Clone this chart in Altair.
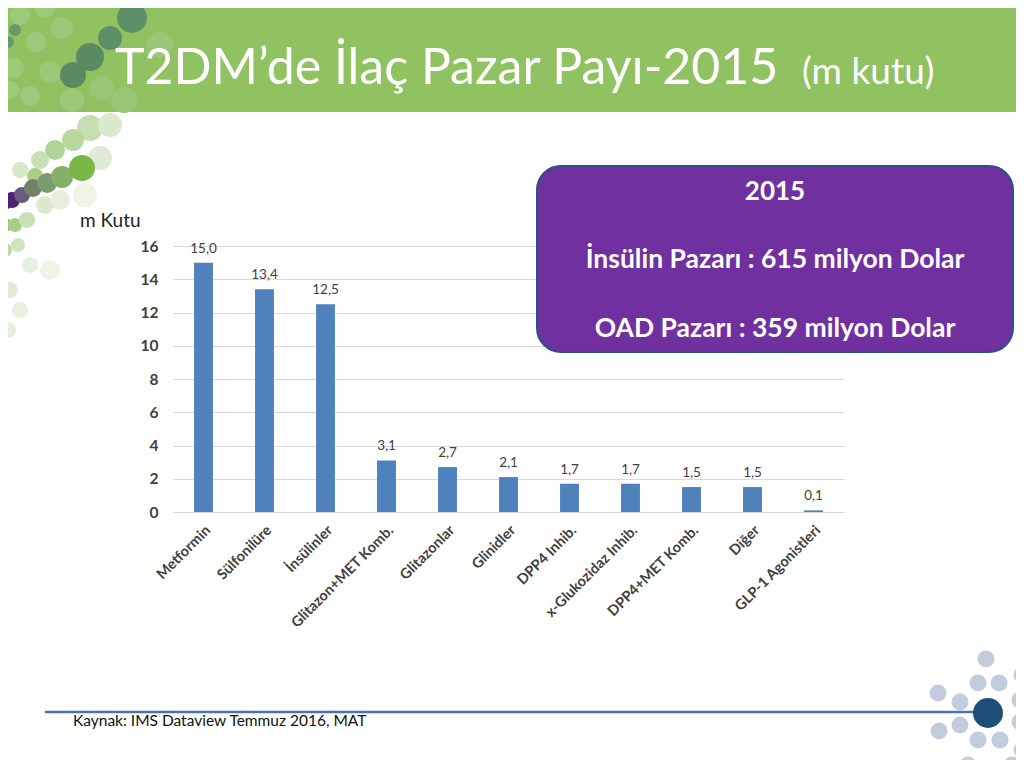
import altair as alt
import pandas as pd

# ---------------- data ----------------
categories = ["Metformin", "Sülfonilüre", "İnsülinler", "Glitazon+MET Komb.",
              "Glitazonlar", "Glinidler", "DPP4 Inhib.", "x-Glukozidaz Inhib.",
              "DPP4+MET Komb.", "Diğer", "GLP-1 Agonistleri"]
values = [15.0, 13.4, 12.5, 3.1, 2.7, 2.1, 1.7, 1.7, 1.5, 1.5, 0.1]
y_ticks = [0, 2, 4, 6, 8, 10, 12, 14, 16]

title_text = "T2DM’de İlaç Pazar Payı-2015"
title_unit = "(m kutu)"
box_lines = ["2015", "İnsülin Pazarı : 615 milyon Dolar", "OAD Pazarı : 359 milyon Dolar"]
y_title = "m Kutu"
source_text = "Kaynak: IMS Dataview Temmuz 2016, MAT"

df = pd.DataFrame({"cat": categories, "val": values})
df["label"] = [f"{v:.1f}".replace(".", ",") for v in values]

# ---------------- layout ----------------
W, H = 671, 266
OX, OY = 173, 246  # page position of the plot origin


def px(x):
    return x - OX


def py(y):
    return y - OY


one = pd.DataFrame({"k": [0]})

# decorative dots (page x, page y, radius, colour)
dots_left = [
    (20, 15, 10, "#9dca7a"), (45, 8, 10, "#9dca7a"), (62, 28, 11, "#9ac877"),
    (36, 42, 10, "#9dca7a"), (14, 68, 10, "#9dca7a"), (50, 72, 11, "#9ac877"),
    (30, 96, 10, "#9dca7a"), (72, 100, 12, "#9ac877"), (102, 88, 12, "#98c675"),
    (124, 100, 13, "#98c675"), (160, 45, 13, "#98c675"), (10, 90, 9, "#9dca7a"),
    (132, 18, 15, "#5d8f68"), (110, 38, 12, "#5d8f68"), (90, 57, 14, "#5a8a62"),
    (73, 75, 13, "#5a8a62"), (15, 30, 6, "#6a9a6a"), (8, 42, 6, "#6a9a6a"),
    (2, 52, 6, "#6a9a6a"),
    (90, 128, 13, "#c5dfb0"), (73, 140, 11, "#b8d8a0"), (55, 150, 10, "#b0d493"),
    (100, 158, 12, "#dfe9d5"), (40, 160, 9, "#c8e0b5"), (20, 170, 8, "#d6e8c8"),
    (35, 176, 8, "#a8cf88"), (110, 125, 12, "#dbe9cf"),
    (4, 202, 8, "#4b2370"), (12, 200, 8, "#4b2370"), (22, 195, 8, "#6a5a80"),
    (33, 188, 9, "#6f8466"), (47, 183, 10, "#7a9a70"), (62, 177, 11, "#86b068"),
    (82, 168, 13, "#7ab648"),
    (5, 225, 7, "#8fc46a"), (15, 225, 7, "#a5d088"), (27, 220, 8, "#c8e2b4"),
    (5, 250, 7, "#b8dba0"), (18, 245, 7, "#cfe5bf"), (45, 205, 9, "#dbe9cf"),
    (60, 200, 10, "#e5efdc"), (85, 195, 12, "#eef4e8"),
    (10, 290, 8, "#e0ecd6"), (20, 310, 8, "#e8f1e0"), (8, 330, 8, "#e4efda"),
    (50, 270, 10, "#eef4e8"), (30, 265, 8, "#e6f0de"),
]
dots_right = [
    (986, 659, 8.5, "#c3ccdc"), (978, 683, 8.5, "#c3ccdc"), (999, 683, 8.5, "#c3ccdc"),
    (938, 693, 8.5, "#c3ccdc"), (960, 702, 8.5, "#c3ccdc"), (1022, 675, 8.5, "#c3ccdc"),
    (1020, 700, 8.5, "#c3ccdc"), (960, 725, 8.5, "#c3ccdc"), (939, 731, 8.5, "#c3ccdc"),
    (978, 740, 8.5, "#c3ccdc"), (1000, 740, 8.5, "#c3ccdc"), (1020, 722, 8.5, "#c3ccdc"),
    (968, 765, 8.5, "#c3ccdc"), (1012, 765, 8.5, "#c3ccdc"), (1022, 750, 8.5, "#c3ccdc"),
    (988, 713, 15, "#1f4e79"),
]


def dot_df(lst):
    return pd.DataFrame({
        "vx": [px(d[0]) for d in lst],
        "vy": [py(d[1]) for d in lst],
        "s": [(2 * d[2]) ** 2 for d in lst],
        "c": [d[3] for d in lst],
    })


def dots_layer(lst):
    return alt.Chart(dot_df(lst)).mark_circle(opacity=1).encode(
        x=alt.X("vx:Q", scale=None, axis=None),
        y=alt.Y("vy:Q", scale=None, axis=None),
        size=alt.Size("s:Q", scale=None, legend=None),
        color=alt.Color("c:N", scale=None, legend=None),
    )


def text_layer(txt, x, y, size, weight="normal", color="black", align="left", font="Lato"):
    return alt.Chart(one).mark_text(
        text=txt, font=font, fontSize=size, fontWeight=weight, color=color,
        align=align, baseline="alphabetic"
    ).encode(x=alt.value(px(x)), y=alt.value(py(y)))


header = alt.Chart(one).mark_rect(color="#90c262").encode(
    x=alt.value(px(0)), x2=alt.value(px(1024)), y=alt.value(py(0)), y2=alt.value(py(112))
)

box = alt.Chart(one).mark_rect(
    fill="#7030a0", stroke="#2f4f8a", strokeWidth=2, cornerRadius=24
).encode(
    x=alt.value(px(537)), x2=alt.value(px(1013)), y=alt.value(py(166)), y2=alt.value(py(352))
)

# ---------------- main chart ----------------
x_enc = alt.X(
    "cat:N", sort=categories,
    scale=alt.Scale(paddingInner=0.69, paddingOuter=0.345),
    axis=alt.Axis(title=None, labelAngle=-45, labelFont="Lato", labelFontWeight="bold",
                  labelFontSize=14.5, labelColor="#404040", labelPadding=11, ticks=False,
                  domain=True, domainColor="#d9d9d9", grid=False),
)
y_enc = alt.Y(
    "val:Q", scale=alt.Scale(domain=[0, 16], nice=False),
    axis=alt.Axis(title=None, values=y_ticks, grid=True, gridColor="#d9d9d9",
                  domain=False, ticks=False, labelFont="Lato", labelFontWeight="bold",
                  labelFontSize=15.5, labelColor="#404040", labelPadding=15),
)

bars = alt.Chart(df).mark_bar(color="#4f81bd").encode(x=x_enc, y=y_enc)
labels = alt.Chart(df).mark_text(
    font="Lato", fontSize=13.5, color="#404040", baseline="bottom", dy=-7
).encode(x=x_enc, y=y_enc, text="label:N")
main = alt.layer(bars, labels)

source_line = alt.Chart(one).mark_rule(color="#4a72b0", strokeWidth=2.5).encode(
    x=alt.value(px(45)), x2=alt.value(px(975)), y=alt.value(py(712))
)

chart = alt.layer(
    header,
    dots_layer(dots_left),
    text_layer(title_text, 115, 84, 50, weight="normal", color="white"),
    text_layer(title_unit, 802, 84, 37, weight="normal", color="white"),
    box,
    text_layer(box_lines[0], 775, 200, 26, weight="bold", color="white", align="center"),
    text_layer(box_lines[1], 775, 268, 26.5, weight="bold", color="white", align="center"),
    text_layer(box_lines[2], 775, 337, 26.5, weight="bold", color="white", align="center"),
    text_layer(y_title, 80, 227, 19, weight="normal", color="#222222"),
    main,
    source_line,
    text_layer(source_text, 73, 726, 15.5, color="#111111"),
    dots_layer(dots_right),
).resolve_scale(
    x="independent", y="independent", size="independent", color="independent"
).properties(
    width=W, height=H,
    autosize=alt.AutoSizeParams(type="none"),
    padding={"left": OX - 8, "top": OY - 8, "right": 1008 - (OX - 8) - W,
             "bottom": 752 - (OY - 8) - H},
    background="white",
).configure_view(strokeWidth=0)

chart.save("out.html", embed_options={"renderer": "svg", "actions": False})
